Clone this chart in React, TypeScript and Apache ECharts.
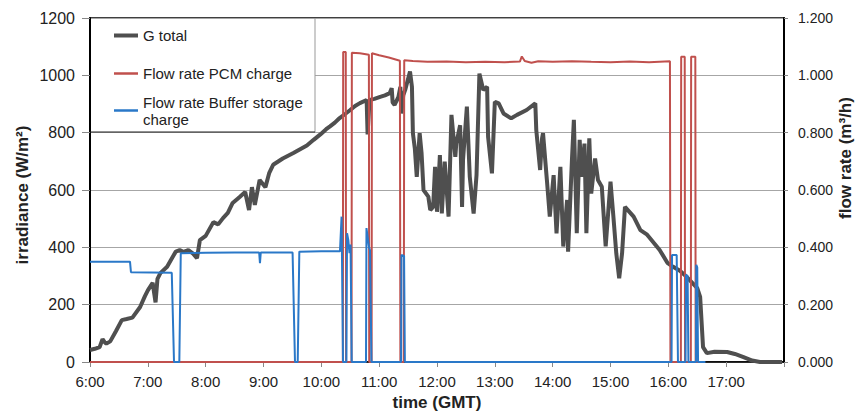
import React, { useEffect, useRef } from "react";
import * as echarts from "echarts";

// ---- data ----
const timeLabels = ["6:00", "7:00", "8:00", "9:00", "10:00", "11:00", "12:00", "13:00", "14:00", "15:00", "16:00", "17:00"];
const irrLabels = ["0", "200", "400", "600", "800", "1000", "1200"];
const flowLabels = ["0.000", "0.200", "0.400", "0.600", "0.800", "1.000", "1.200"];

const gTimes = [
  "6:00", "6:05", "6:10", "6:13", "6:15", "6:17", "6:21", "6:27", "6:33", "6:38", "6:44", "6:52", "6:57",
  "7:00", "7:05", "7:08", "7:10", "7:13", "7:20", "7:25", "7:29", "7:33", "7:37", "7:42", "7:47", "7:51", "7:54",
  "8:00", "8:08", "8:13", "8:18", "8:23", "8:28", "8:35", "8:41", "8:45", "8:48", "8:51", "8:56",
  "9:02", "9:06", "9:10", "9:20", "9:31", "9:38", "9:45", "9:52", "9:59",
  "10:05", "10:09", "10:14", "10:19", "10:25", "10:30", "10:35", "10:40", "10:47", "10:48", "10:50", "10:55",
  "11:01", "11:06", "11:11", "11:13", "11:14", "11:16", "11:20", "11:22", "11:23", "11:25", "11:27", "11:32",
  "11:34", "11:35", "11:37", "11:39", "11:42", "11:44", "11:46", "11:51", "11:53", "11:56", "11:58",
  "12:00", "12:03", "12:05", "12:08", "12:12", "12:15", "12:19", "12:20", "12:24", "12:26", "12:27", "12:31",
  "12:34", "12:38", "12:41", "12:44", "12:48", "12:52", "12:53", "12:57",
  "13:00", "13:04", "13:09", "13:17", "13:23", "13:33", "13:42", "13:43", "13:47", "13:49", "13:50", "13:54", "13:57",
  "14:01", "14:04", "14:08", "14:11", "14:15", "14:16", "14:20", "14:22", "14:25", "14:28", "14:30", "14:33",
  "14:35", "14:38", "14:40", "14:44", "14:47", "14:51", "14:55",
  "15:00", "15:03", "15:06", "15:09", "15:12", "15:15", "15:24", "15:31", "15:38", "15:51", "15:59",
  "16:05", "16:12", "16:19", "16:30", "16:33", "16:36", "16:40", "16:48",
  "17:01", "17:09", "17:18", "17:27", "17:35", "17:58",
];
const gValues = [
  42, 46, 52, 80, 70, 64, 72, 108, 146, 150, 155, 192, 230,
  250, 276, 208, 290, 310, 332, 362, 385, 390, 384, 390, 378, 362, 425,
  440, 488, 480, 502, 520, 555, 575, 593, 530, 610, 548, 635,
  610, 660, 688, 710, 729, 742, 755, 775, 794,
  812, 822, 835, 851, 866, 879, 893, 903, 914, 794, 914, 918,
  925, 930, 938, 955, 905, 897, 925, 960, 867, 930, 949, 1013,
  960, 798, 745, 646, 798, 728, 600, 577, 530, 541, 681,
  524, 722, 518, 699, 507, 862, 716, 762, 826, 541, 705, 891,
  646, 518, 652, 1006, 949, 960, 786, 658,
  908, 902, 867, 850, 862, 879, 902, 809, 670, 780, 798, 635, 507,
  652, 449, 681, 403, 565, 385, 705, 845, 449, 775, 646, 762,
  449, 780, 588, 710, 635, 611, 403,
  629, 507, 379, 292, 379, 541, 507, 460, 444, 391, 346,
  332, 318, 297, 258, 227, 52, 31, 36,
  35, 28, 17, 5, 0, 0,
];

const pcmTimes = [
  "6:00", "10:22:20", "10:22:40", "10:25:20", "10:25:40", "10:31:20", "10:31:40", "10:40", "10:49:20", "10:49:40",
  "10:52:10", "10:52:30", "11:00", "11:10", "11:21:30", "11:22:00", "11:25:30", "11:26:00", "11:35", "11:50",
  "12:10", "12:30", "12:50", "13:10", "13:26", "13:28", "13:31", "13:38", "13:45", "14:00", "14:20", "14:40",
  "15:00", "15:20", "15:40", "16:01:40", "16:02:10", "16:13:00", "16:13:20", "16:17:00", "16:17:20",
  "16:23:20", "16:23:40", "16:28:00", "16:28:20", "16:38",
];
const pcmValues = [
  0, 0, 1.081, 1.081, 0, 0, 1.079, 1.077, 1.072, 0,
  0, 1.077, 1.07, 1.062, 1.051, 0, 0, 1.053, 1.05, 1.047,
  1.048, 1.046, 1.047, 1.046, 1.048, 1.066, 1.05, 1.044, 1.049, 1.047, 1.049, 1.047,
  1.046, 1.048, 1.046, 1.049, 0, 0, 1.065, 1.065, 0,
  0, 1.065, 1.065, 0, 0,
];

const bufTimes = [
  "6:00", "6:41:30", "6:42:30", "7:24:50", "7:27:10", "7:32:40", "7:34:10", "8:00", "8:30", "8:55:30", "8:56:20",
  "8:57:10", "9:30:10", "9:32:40", "9:35:30", "9:37:10", "10:00", "10:19:20", "10:21:00", "10:22:30",
  "10:26:00", "10:26:40", "10:28:00", "10:29:10", "10:30:20", "10:31:30", "10:46:20", "10:46:50", "10:49:30",
  "10:50:30", "10:52:00", "11:22:40", "11:23:10", "11:25:50", "11:26:40", "16:03:20", "16:03:50", "16:08:40",
  "16:10:00", "16:17:50", "16:18:20", "16:20:00", "16:20:50", "16:28:40", "16:29:00", "16:30:00", "16:30:50", "16:38:30",
];
const bufValues = [
  0.35, 0.35, 0.313, 0.311, 0, 0, 0.379, 0.381, 0.382, 0.382, 0.345,
  0.382, 0.382, 0, 0, 0.385, 0.386, 0.386, 0.507, 0,
  0, 0.449, 0.425, 0.38, 0.41, 0, 0, 0.467, 0.4,
  0.39, 0, 0, 0.373, 0.37, 0, 0, 0.373, 0.373,
  0, 0, 0.304, 0.3, 0, 0, 0.339, 0.33, 0, 0,
];

const seriesNames = ["G total", "Flow rate PCM charge", "Flow rate Buffer storage charge"];

function toHours(s: string): number {
  const p = s.split(":").map(Number);
  return p[0] + (p[1] || 0) / 60 + (p[2] || 0) / 3600;
}
function pairs(ts: string[], vs: number[]) {
  return ts.map((t, i) => [toHours(t), vs[i]]);
}

const FONT = "'Liberation Sans', Arial, sans-serif";
const GREY = "#4f4f4f";
const RED = "#c0504d";
const BLUE = "#2a78c8";

export default function App() {
  const ref = useRef<HTMLDivElement>(null);
  useEffect(() => {
    document.body.style.margin = "0";
    if (!ref.current) return;
    const chart = echarts.init(ref.current, undefined, { renderer: "svg" });
    const legendBase = {
      orient: "vertical",
      left: 109,
      itemWidth: 24,
      icon: "rect",
      selectedMode: false,
      textStyle: { fontFamily: FONT, fontSize: 15, color: "#222", lineHeight: 17 },
    };
    chart.setOption({
      animation: false,
      backgroundColor: "#fff",
      textStyle: { fontFamily: FONT },
      grid: { left: 90, right: 72, top: 18, bottom: 54, show: true, borderColor: "#000", borderWidth: 1.5, backgroundColor: "transparent" },
      legend: [
        { ...legendBase, top: 22, itemHeight: 4, data: [seriesNames[0]] },
        { ...legendBase, top: 60, itemHeight: 2.5, data: [seriesNames[1]] },
        {
          ...legendBase,
          top: 80,
          itemHeight: 2.5,
          data: [seriesNames[2]],
          formatter: () => "Flow rate Buffer storage\ncharge",
          textStyle: { ...legendBase.textStyle, padding: [17, 0, 0, 0] },
        },
      ],
      xAxis: {
        type: "value",
        min: 6,
        max: 18,
        interval: 1,
        axisLine: { show: true, lineStyle: { color: "#000", width: 1.5 } },
        axisTick: { show: true, length: 5, lineStyle: { color: "#888" } },
        axisLabel: {
          formatter: (v: number) => timeLabels[Math.round(v - 6)] ?? "",
          color: "#222",
          fontSize: 15,
          margin: 12,
          fontFamily: FONT,
        },
        splitLine: { show: false },
        name: "time (GMT)",
        nameLocation: "middle",
        nameGap: 32,
        nameTextStyle: { fontWeight: "bold", fontSize: 17, color: "#222", fontFamily: FONT },
      },
      yAxis: [
        {
          type: "value",
          min: 0,
          max: 1200,
          interval: 200,
          axisLine: { show: true, lineStyle: { color: "#000", width: 2 } },
          axisTick: { show: true, length: 8, lineStyle: { color: "#888" } },
          axisLabel: {
            formatter: (v: number) => irrLabels[Math.round(v / 200)] ?? "",
            color: "#222",
            fontSize: 16,
            margin: 15,
            fontFamily: FONT,
          },
          splitLine: { show: true, lineStyle: { color: "#a6a6a6", width: 1 } },
        },
        {
          type: "value",
          position: "right",
          min: 0,
          max: 1.2,
          interval: 0.2,
          axisLine: { show: true, lineStyle: { color: "#000", width: 2 } },
          axisTick: { show: true, length: 4, lineStyle: { color: "#888" } },
          axisLabel: {
            formatter: (v: number) => flowLabels[Math.round(v / 0.2)] ?? "",
            color: "#222",
            fontSize: 14,
            margin: 14,
            fontFamily: FONT,
          },
          splitLine: { show: false },
        },
      ],
      series: [
        {
          name: seriesNames[0],
          type: "line",
          yAxisIndex: 0,
          symbol: "none",
          color: GREY,
          lineStyle: { color: GREY, width: 4 },
          data: pairs(gTimes, gValues),
          z: 2,
        },
        {
          name: seriesNames[1],
          type: "line",
          yAxisIndex: 1,
          symbol: "none",
          color: RED,
          lineStyle: { color: RED, width: 2 },
          data: pairs(pcmTimes, pcmValues),
          z: 3,
        },
        {
          name: seriesNames[2],
          type: "line",
          yAxisIndex: 1,
          symbol: "none",
          color: BLUE,
          lineStyle: { color: BLUE, width: 2 },
          data: pairs(bufTimes, bufValues),
          z: 4,
        },
      ],
      graphic: [
        { type: "rect", z: 3, shape: { x: 91, y: 19, width: 224, height: 113 }, style: { fill: "#fff" } },
        { type: "line", z: 3, shape: { x1: 315, y1: 18, x2: 315, y2: 132 }, style: { stroke: "#999", lineWidth: 1 } },
        { type: "line", z: 3, shape: { x1: 90, y1: 132, x2: 315, y2: 132 }, style: { stroke: "#222", lineWidth: 1.2 } },
        {
          type: "text",
          x: 22,
          y: 195,
          rotation: Math.PI / 2,
          style: { text: "irradiance (W/m²)", fill: "#222", font: `bold 17px ${FONT}`, textAlign: "center", textVerticalAlign: "middle" },
        },
        {
          type: "text",
          x: 845,
          y: 158,
          rotation: Math.PI / 2,
          style: { text: "flow rate (m³/h)", fill: "#222", font: `bold 17px ${FONT}`, textAlign: "center", textVerticalAlign: "middle" },
        },
      ],
    });
    return () => chart.dispose();
  }, []);
  return <div ref={ref} style={{ width: 856, height: 416 }} />;
}
